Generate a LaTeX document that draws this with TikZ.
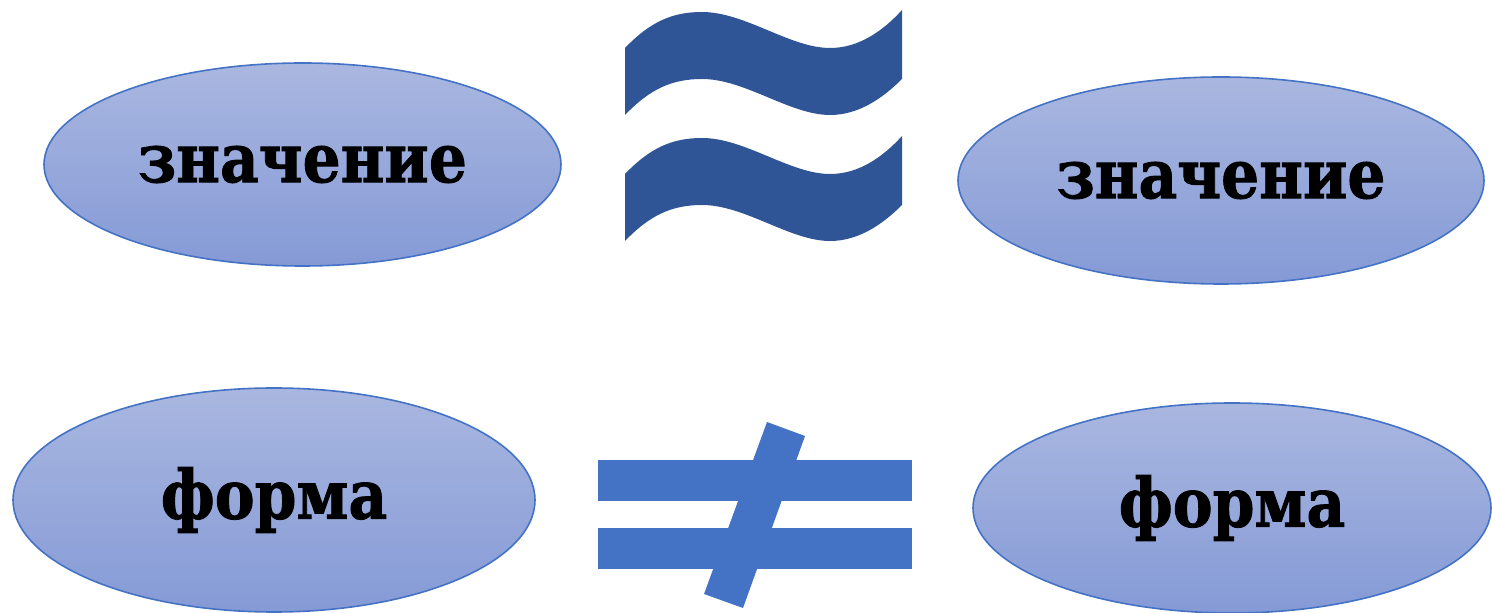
\documentclass[tikz,border=0pt]{standalone}
\usepackage{fontspec}
\setmainfont{DejaVu Serif}
\newfontfamily\lblfont[FakeStretch=0.88,FakeBold=1.2]{DejaVu Serif}
\usetikzlibrary{shapes.geometric}
\definecolor{ellborder}{HTML}{4472C4}
\definecolor{elltop}{HTML}{A9B7E0}
\definecolor{ellbot}{HTML}{859AD6}
\definecolor{wavecol}{HTML}{2F5597}
\definecolor{neqcol}{HTML}{4472C4}
\begin{document}
\begin{tikzpicture}[x=0.5pt,y=-0.5pt,
  oval/.style={ellipse, draw=ellborder, line width=0.8pt, top color=elltop, bottom color=ellbot,
    inner sep=0pt, text=black, font=\lblfont\bfseries\fontsize{34}{34}\selectfont}]
\useasboundingbox (0,0) rectangle (1492,613);
\node[oval, minimum width=258.5pt, minimum height=101.5pt] (z1) at (302.5,164.5) {значение};
\node[oval, minimum width=263pt, minimum height=103.5pt] (z2) at (1221,180.5) {значение};
\node[oval, minimum width=261pt, minimum height=112pt] (f1) at (274,500) {форма};
\node[oval, minimum width=259pt, minimum height=105pt] (f2) at (1232,508) {форма};
% approximately-equal sign
\foreach \dy in {0,126}{
\begin{scope}[shift={(0,\dy)}]
\fill[wavecol] (625,48) .. controls (650,22) and (672,12) .. (702,12)
  .. controls (745,12) and (790,48) .. (830,48)
  .. controls (858,48) and (882,32) .. (902,10)
  -- (902,79)
  .. controls (882,99) and (858,115) .. (830,115)
  .. controls (790,115) and (745,79) .. (702,79)
  .. controls (672,79) and (650,89) .. (625,115) -- cycle;
\end{scope}}
% not-equal sign
\fill[neqcol] (598,460) rectangle (912,501);
\fill[neqcol] (598,528) rectangle (912,569);
\fill[neqcol] (767,422) -- (805,436) -- (743,608) -- (704,594) -- cycle;
\end{tikzpicture}
\end{document}
